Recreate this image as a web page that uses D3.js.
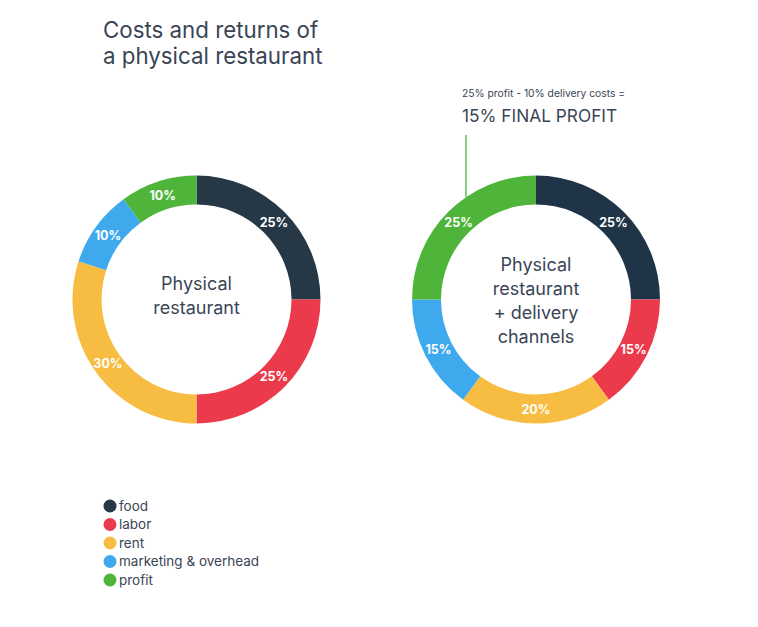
<!DOCTYPE html>
<html><head><meta charset="utf-8">
<script src="https://cdn.jsdelivr.net/npm/d3@7"></script>
<style>
body{margin:0;background:#fff;}
svg{display:block;font-family:Inter,"Open Sans",sans-serif;}
</style></head>
<body><svg id="c" width="758" height="627"></svg>
<script>
const categories = ["food","labor","rent","marketing & overhead","profit"];
const colors = ["#263746","#ea3a4b","#f6bd42","#3fa9ee","#4fb53a"];
const physicalValues = [25,25,30,10,10];
const deliveryValues = [25,15,20,15,25];
const title = ["Costs and returns of","a physical restaurant"];
const centerLeft = ["Physical","restaurant"];
const centerRight = ["Physical","restaurant","+ delivery","channels"];
const noteSmall = "25% profit - 10% delivery costs =";
const noteBig = "15% FINAL PROFIT";

const svg = d3.select("#c");
const textColor = "#3a4556";

svg.selectAll("text.title").data(title).join("text")
  .attr("x",103).attr("y",(d,i)=>38+i*26)
  .attr("fill",textColor).attr("font-size",22.3).text(d=>d);

const pie = d3.pie().sort(null).value(d=>d);
const outerR = 124, innerR = 95;
const arc = d3.arc().innerRadius(innerR).outerRadius(outerR);
const labelArc = d3.arc().innerRadius(109.5).outerRadius(109.5);

function donut(cx, cy, values, centerLines, firstBaseline, step, foodColor){
  const g = svg.append("g").attr("transform",`translate(${cx},${cy})`);
  const arcs = pie(values);
  g.selectAll("path").data(arcs).join("path")
    .attr("d",arc)
    .attr("fill",(d,i)=> i===0 && foodColor ? foodColor : colors[i]);
  g.selectAll("text.lbl").data(arcs).join("text")
    .attr("class","lbl")
    .attr("transform",d=>`translate(${labelArc.centroid(d)})`)
    .attr("text-anchor","middle").attr("dy","0.36em")
    .attr("fill","#fff").attr("font-weight","bold").attr("font-size",12.5)
    .text(d=>d.data+"%");
  g.selectAll("text.ctr").data(centerLines).join("text")
    .attr("class","ctr")
    .attr("x",0).attr("y",(d,i)=>firstBaseline - cy + i*step)
    .attr("text-anchor","middle").attr("fill",textColor).attr("font-size",18)
    .text(d=>d);
}
donut(196.5, 299.5, physicalValues, centerLeft, 290, 24, null);
donut(536, 299.5, deliveryValues, centerRight, 271, 24, "#1f3547");

// annotation
const lx = 466;
const yTop = 299.5 - Math.sqrt(outerR*outerR - (536-lx)*(536-lx));
svg.append("line").attr("x1",lx).attr("x2",lx).attr("y1",135).attr("y2",yTop)
  .attr("stroke","#62c150").attr("stroke-width",1.5);
svg.append("text").attr("x",462).attr("y",97).attr("font-size",10.3)
  .attr("fill",textColor).text(noteSmall);
svg.append("text").attr("x",462).attr("y",122).attr("font-size",17.3)
  .attr("fill",textColor).text(noteBig);

// legend
const lg = svg.append("g");
const ly = d3.scalePoint().domain(categories).range([506,580]);
lg.selectAll("circle").data(categories).join("circle")
  .attr("cx",110).attr("cy",d=>ly(d)).attr("r",6.5)
  .attr("fill",(d,i)=>colors[i]);
lg.selectAll("text").data(categories).join("text")
  .attr("x",119).attr("y",d=>ly(d)).attr("dy","0.35em")
  .attr("font-size",13.5).attr("fill",textColor).text(d=>d);
</script></body></html>
